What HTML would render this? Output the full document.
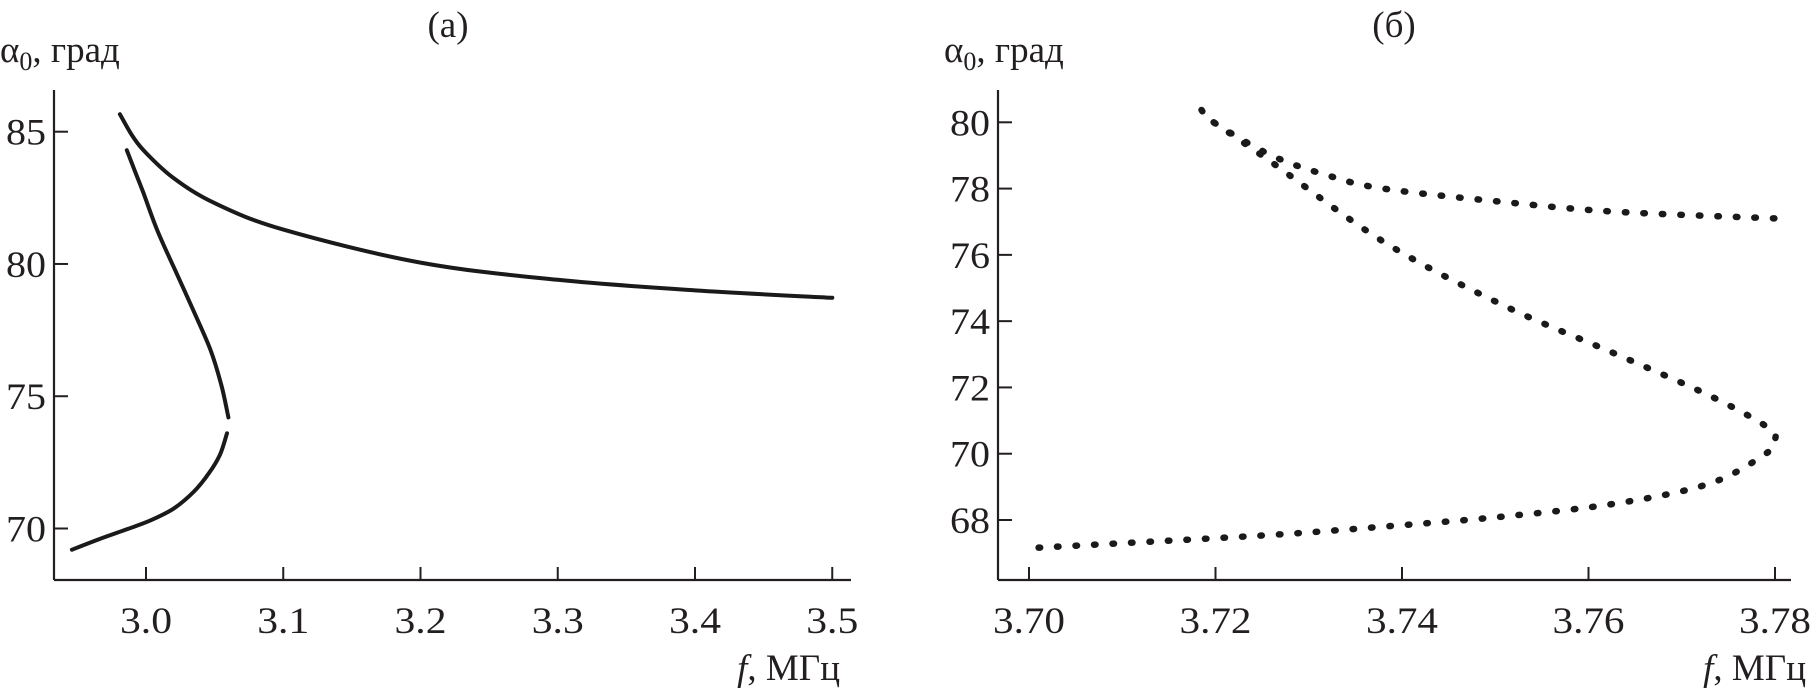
<!DOCTYPE html>
<html><head><meta charset="utf-8">
<style>
html,body{margin:0;padding:0;background:#fff;}
svg{display:block;}
text{font-family:"Liberation Serif",serif;fill:#231f20;}
</style></head>
<body>
<svg id="chart" width="1811" height="691" viewBox="0 0 1811 691" xmlns="http://www.w3.org/2000/svg">
<g id="pa"></g>
<g id="pb"></g>
</svg>
<script>
// Panel (a) data
const aXTicks = [3.0, 3.1, 3.2, 3.3, 3.4, 3.5];
const aXTickLabels = ["3.0", "3.1", "3.2", "3.3", "3.4", "3.5"];
const aYTicks = [70, 75, 80, 85];
const aYTickLabels = ["70", "75", "80", "85"];
const aUpperF = [2.981, 2.99, 3.0, 3.02, 3.05, 3.1, 3.2, 3.3, 3.4, 3.5];
const aUpperA = [85.66, 84.85, 84.2, 83.25, 82.3, 81.3, 80.05, 79.4, 79.0, 78.72];
const aMidF = [2.986, 2.992, 2.998, 3.008, 3.02, 3.034, 3.047, 3.055, 3.060];
const aMidA = [84.3, 83.5, 82.7, 81.3, 79.9, 78.3, 76.75, 75.4, 74.2];
const aLowF = [2.946, 2.966, 2.985, 3.003, 3.02, 3.035, 3.046, 3.054, 3.059];
const aLowA = [69.2, 69.6, 69.95, 70.3, 70.75, 71.4, 72.1, 72.8, 73.6];
// Panel (б) data
const bXTicks = [3.70, 3.72, 3.74, 3.76, 3.78];
const bXTickLabels = ["3.70", "3.72", "3.74", "3.76", "3.78"];
const bYTicks = [68, 70, 72, 74, 76, 78, 80];
const bYTickLabels = ["68", "70", "72", "74", "76", "78", "80"];
const bUpperF = [3.7185, 3.7198, 3.726, 3.732, 3.738, 3.7507, 3.763, 3.78];
const bUpperA = [80.37, 80.0, 79.0, 78.4, 78.0, 77.6, 77.3, 77.1];
const bLowerF = [3.7198, 3.726, 3.738, 3.7507, 3.763, 3.773, 3.7792, 3.78, 3.779, 3.773, 3.763, 3.7507, 3.738, 3.726, 3.71, 3.70];
const bLowerA = [80.0, 78.8, 76.4, 74.5, 73.0, 71.75, 70.8, 70.4, 70.0, 69.1, 68.5, 68.1, 67.8, 67.55, 67.3, 67.15];

const NS = "http://www.w3.org/2000/svg";
function mk(parent, tag, attrs, txt){
  const e = document.createElementNS(NS, tag);
  for (const k in attrs) e.setAttribute(k, attrs[k]);
  if (txt !== undefined) e.textContent = txt;
  parent.appendChild(e);
  return e;
}
function lin(d0, d1, p0, p1){ return v => p0 + (v - d0) / (d1 - d0) * (p1 - p0); }
function pathFrom(fs, as, sx, sy){
  const pts = fs.map((f, i) => [sx(f), sy(as[i])]);
  let d = "M" + pts[0][0].toFixed(1) + "," + pts[0][1].toFixed(1);
  for (let i = 1; i < pts.length; i++){
    const p0 = pts[Math.max(0, i - 2)], p1 = pts[i - 1], p2 = pts[i], p3 = pts[Math.min(pts.length - 1, i + 1)];
    const c1x = p1[0] + (p2[0] - p0[0]) / 6, c1y = p1[1] + (p2[1] - p0[1]) / 6;
    const c2x = p2[0] - (p3[0] - p1[0]) / 6, c2y = p2[1] - (p3[1] - p1[1]) / 6;
    d += " C" + c1x.toFixed(1) + "," + c1y.toFixed(1) + " " + c2x.toFixed(1) + "," + c2y.toFixed(1) + " " + p2[0].toFixed(1) + "," + p2[1].toFixed(1);
  }
  return d;
}
function axes(g, cfg){
  const {x0, x1, yBottom, yTop, sx, sy, xt, xl, yt, yl} = cfg;
  const ya = mk(g, "line", {x1: x0, y1: yTop, x2: x0, y2: yBottom, stroke: "#231f20", "stroke-width": 2.2});
  
  
  const xa = mk(g, "line", {x1: x0, y1: yBottom, x2: x1, y2: yBottom, stroke: "#231f20", "stroke-width": 2.2});
  
  
  xt.forEach((v, i) => {
    const x = sx(v);
    const t = mk(g, "line", {x1: x, y1: yBottom, x2: x, y2: yBottom - 13, stroke: "#231f20", "stroke-width": 2});
    
    
    const l = mk(g, "text", {x: x, y: yBottom + 53, "font-size": 37, "text-anchor": "middle", textLength: xl[i].length > 3 ? 72 : 52, lengthAdjust: "spacingAndGlyphs"}, xl[i]);
    
    
  });
  yt.forEach((v, i) => {
    const y = sy(v);
    const t = mk(g, "line", {x1: x0, y1: y, x2: x0 + 14, y2: y, stroke: "#231f20", "stroke-width": 2});
    
    
    const l = mk(g, "text", {x: x0 - 8, y: y + 13, "font-size": 37, "text-anchor": "end", textLength: 40, lengthAdjust: "spacingAndGlyphs"}, yl[i]);
    
    
  });
}
function labels(g, cx, title, ax, xlx){
  const t = mk(g, "text", {x: cx, y: 37, "font-size": 37, "text-anchor": "middle"}, title);
  
  
  const yl = mk(g, "text", {x: ax, y: 62, "font-size": 37});
  
  
  mk(yl, "tspan", {}, "α");
  mk(yl, "tspan", {dy: 8, "font-size": 26}, "0");
  mk(yl, "tspan", {dy: -8}, ", град");
  const xl = mk(g, "text", {x: xlx, y: 680, "font-size": 37, "text-anchor": "end"});
  
  
  mk(xl, "tspan", {"font-style": "italic"}, "f");
  mk(xl, "tspan", {}, ", МГц");
}

// Panel a
const ga = document.getElementById("pa");
const sxA = lin(3.0, 3.4, 146, 695);
const syA = lin(70, 85, 528.5, 131.7);
axes(ga, {x0: 54, x1: 851, yBottom: 580, yTop: 90, sx: sxA, sy: syA, xt: aXTicks, xl: aXTickLabels, yt: aYTicks, yl: aYTickLabels});
labels(ga, 448, "(a)", 0, 840);
[[aUpperF, aUpperA, 'curve-upper'], [aMidF, aMidA, 'curve-middle'], [aLowF, aLowA, 'curve-lower']].forEach(s => {
  const p = mk(ga, "path", {d: pathFrom(s[0], s[1], sxA, syA), fill: "none", stroke: "#1a1a1a", "stroke-width": 4, "stroke-linecap": "round"});
  
  
});

// Panel b
const gb = document.getElementById("pb");
const sxB = lin(3.70, 3.78, 1029, 1775);
const syB = lin(68, 80, 520, 122.3);
axes(gb, {x0: 998, x1: 1791, yBottom: 580, yTop: 90, sx: sxB, sy: syB, xt: bXTicks, xl: bXTickLabels, yt: bYTicks, yl: bYTickLabels});
labels(gb, 1394, "(б)", 944, 1806);
[[bUpperF, bUpperA, 'dotted-upper'], [bLowerF, bLowerA, 'dotted-lower']].forEach(s => {
  const p = mk(gb, "path", {d: pathFrom(s[0], s[1], sxB, syB), fill: "none", stroke: "#1a1a1a", "stroke-width": 6.5, "stroke-linecap": "round", "stroke-dasharray": "1.5 17"});
  
  
});
</script>
</body></html>
